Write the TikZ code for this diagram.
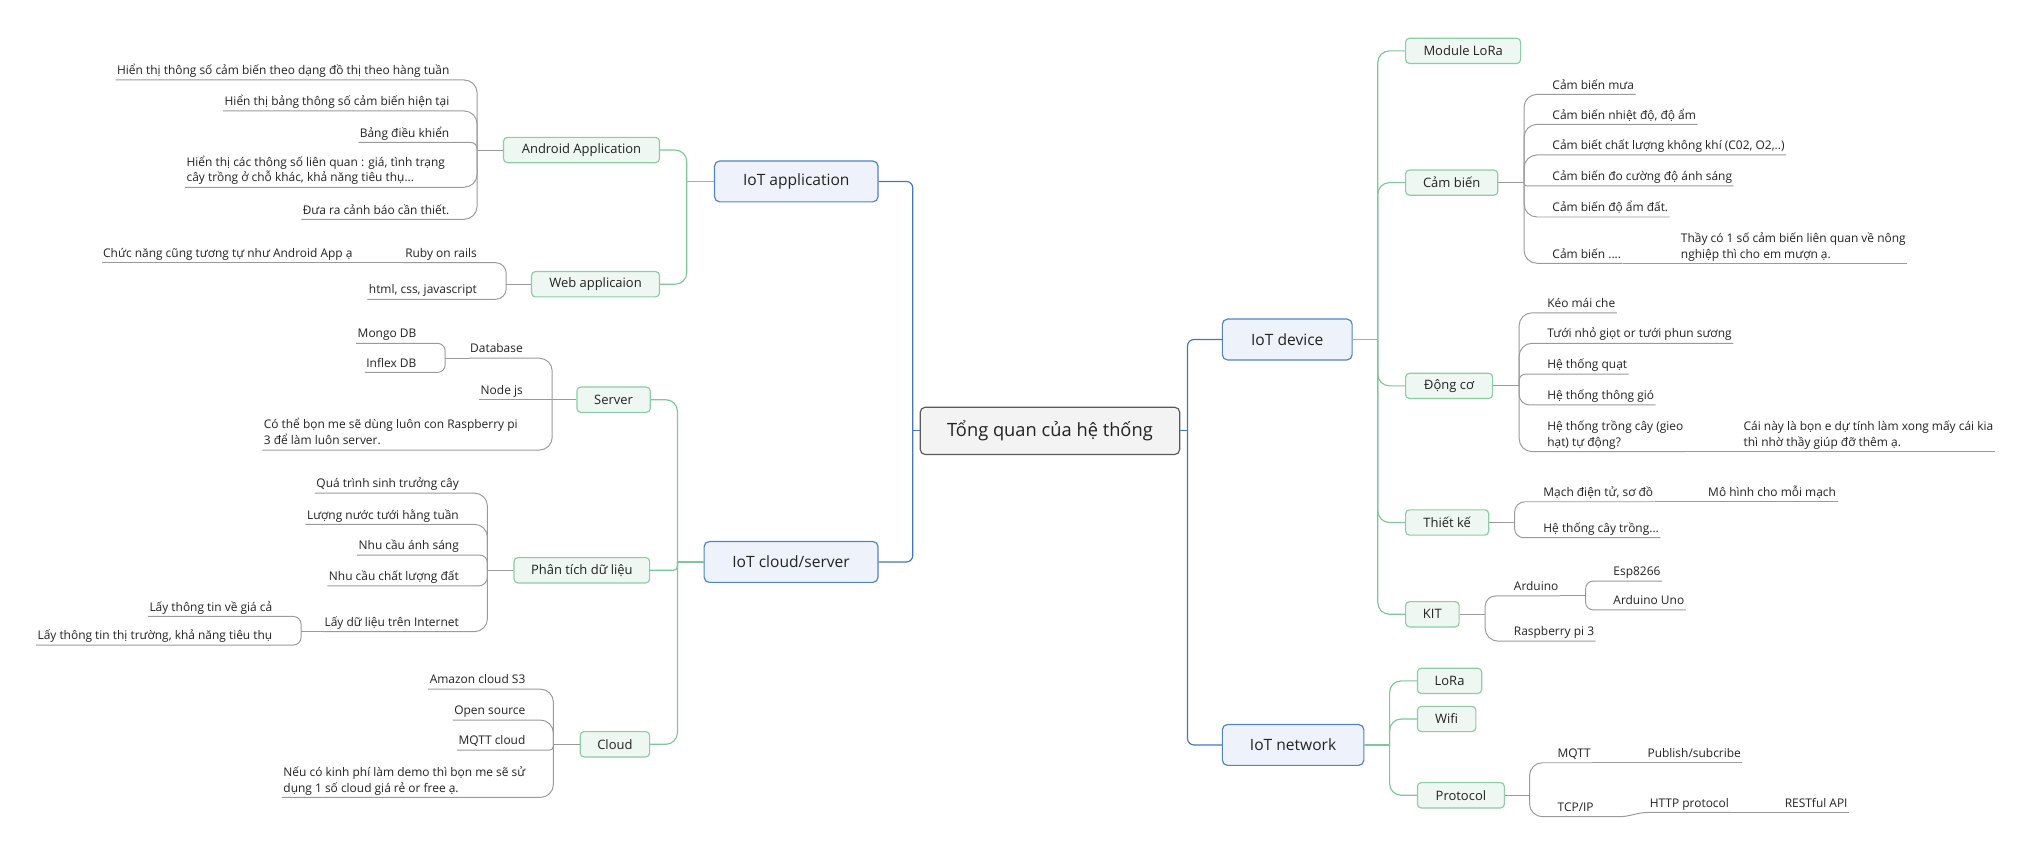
\documentclass[tikz,border=0pt]{standalone}
\usepackage{fontspec}
\setmainfont{Open Sans}
\newcommand\dstr{\rule[-2.4pt]{0pt}{9.4pt}}
\definecolor{txt}{HTML}{222222}
\definecolor{rootborder}{HTML}{5A5A5A}
\definecolor{rootfill}{HTML}{F3F3F3}
\definecolor{blueborder}{HTML}{4F83C6}
\definecolor{bluefill}{HTML}{EEF3FB}
\definecolor{bluewire}{HTML}{3F78BF}
\definecolor{greenborder}{HTML}{8ACFA4}
\definecolor{greenfill}{HTML}{EEF7F1}
\definecolor{greenwire}{HTML}{7DC89A}
\definecolor{graywire}{HTML}{9A9A9A}
\begin{document}
\begin{tikzpicture}[x=1pt,y=-1pt,
  root/.style={draw=rootborder, fill=rootfill, rounded corners=4pt, line width=0.9pt, minimum width=200pt, minimum height=36.5pt, font=\fontsize{14.1}{17}\selectfont, text=txt, inner sep=0pt},
  lone/.style={draw=blueborder, fill=bluefill, rounded corners=4pt, line width=0.9pt, minimum height=31.5pt, font=\fontsize{12}{14}\selectfont, text=txt, inner sep=0pt},
  ltwo/.style={draw=greenborder, fill=greenfill, rounded corners=3pt, line width=0.9pt, minimum height=19.5pt, font=\fontsize{10}{12}\selectfont, text=txt, inner sep=0pt},
  leafbase/.style={font=\fontsize{9.2}{12.2}\selectfont, text=txt, inner xsep=1pt, inner ysep=1.5pt},
  leaf/.style={leafbase, text height=7pt, text depth=2.4pt},
  multi/.style={leafbase, align=left},
  bl/.style={draw=bluewire, line width=0.9pt},
  gl/.style={draw=greenwire, line width=0.9pt},
  ul/.style={draw=graywire, line width=0.75pt}
]
\fill[white] (0,0) rectangle (1568,663);
\useasboundingbox (0,0) rectangle (1568,663);

% ---------- root and level 1 ----------
\node[root] (root) at (809,332) {Tổng quan của hệ thống};
\node[lone, anchor=east, minimum width=126pt] (app) at (677,139.8) {IoT application};
\node[lone, anchor=east, minimum width=134pt] (csrv) at (677,433) {IoT cloud/server};
\node[lone, anchor=west, minimum width=100pt] (dev) at (941.4,261.6) {IoT device};
\node[lone, anchor=west, minimum width=109pt] (net) at (941.4,574) {IoT network};

\coordinate (jL) at (703.3,332);
\coordinate (jR) at (915,332);
\draw[bl] (root.west) -- (jL);
\draw[bl, rounded corners=5pt] (jL) |- (app.east);
\draw[bl, rounded corners=5pt] (jL) |- (csrv.east);
\draw[bl] (root.east) -- (jR);
\draw[bl, rounded corners=5pt] (jR) |- (dev.west);
\draw[bl, rounded corners=5pt] (jR) |- (net.west);

% ---------- level 2 left ----------
\node[ltwo, anchor=east, minimum width=120.2pt] (android) at (508.6,115.6) {Android Application};
\node[ltwo, anchor=east, minimum width=98.6pt] (web) at (508.6,219) {Web applicaion};
\node[ltwo, anchor=east, minimum width=56.5pt] (server) at (501.5,308) {Server};
\node[ltwo, anchor=east, minimum width=104.5pt] (phantich) at (501,439.4) {Phân tích dữ liệu};
\node[ltwo, anchor=east, minimum width=53.5pt] (cloud) at (501,573.5) {Cloud};

\coordinate (jApp) at (529.2,139.8);
\draw[gl] (app.west) -- (jApp);
\draw[gl, rounded corners=9pt] (jApp) |- (android.east);
\draw[gl, rounded corners=9pt] (jApp) |- (web.east);

\coordinate (jCS) at (522,433);
\draw[gl] (csrv.west) -- (jCS);
\draw[gl, rounded corners=9pt] (jCS) |- (server.east);
\draw[gl, rounded corners=3pt] (jCS) |- (phantich.east);
\draw[gl, rounded corners=9pt] (jCS) |- (cloud.east);

% ---------- level 2 right ----------
\node[ltwo, anchor=west, minimum width=88.6pt] (lora1) at (1082.6,39.2) {Module LoRa};
\node[ltwo, anchor=west, minimum width=71pt] (cambien) at (1082.6,140.7) {Cảm biến};
\node[ltwo, anchor=west, minimum width=67pt] (dongco) at (1082.6,297.3) {Động cơ};
\node[ltwo, anchor=west, minimum width=64pt] (thietke) at (1082.6,402.6) {Thiết kế};
\node[ltwo, anchor=west, minimum width=41.2pt] (kit) at (1082.6,473.3) {KIT};
\node[ltwo, anchor=west, minimum width=49.5pt] (lora2) at (1091.7,524.6) {LoRa};
\node[ltwo, anchor=west, minimum width=45pt] (wifi) at (1091.7,554) {Wifi};
\node[ltwo, anchor=west, minimum width=67pt] (protocol) at (1091.7,612.8) {Protocol};

\coordinate (jDev) at (1061.6,261.6);
\draw[gl] (dev.east) -- (jDev);
\foreach \n in {lora1,cambien,dongco,thietke,kit}
  \draw[gl, rounded corners=9pt] (jDev) |- (\n.west);
\coordinate (jNet) at (1070.7,574);
\draw[gl] (net.east) -- (jNet);
\foreach \n in {lora2,wifi,protocol}
  \draw[gl, rounded corners=9pt] (jNet) |- (\n.west);

% ---------- Android Application leaves ----------
\coordinate (jAnd) at (367.6,115.6);
\draw[ul] (android.west) -- (jAnd);
\node[leaf, anchor=south east] (a1) at (347.4,61.6) {Hiển thị thông số cảm biến theo dạng đồ thị theo hàng tuần};
\node[leaf, anchor=south east] (a2) at (347.4,85.5) {Hiển thị bảng thông số cảm biến hiện tại};
\node[leaf, anchor=south east] (a3) at (347.4,109.7) {Bảng điều khiển};
\node[multi, anchor=south east] (a4) at (344,144.3) {Hiển thị các thông số liên quan : giá, tình trạng\\cây trồng ở chỗ khác, khả năng tiêu thụ...\dstr};
\node[leaf, anchor=south east] (a5) at (347.4,169) {Đưa ra cảnh báo cần thiết.};
\draw[ul, rounded corners=10pt] (jAnd) |- (a1.south west);
\draw[ul, rounded corners=10pt] (jAnd) |- (a2.south west);
\draw[ul, rounded corners=5pt] (jAnd) |- (a3.south west);
\draw[ul, rounded corners=10pt] (jAnd) |- (a4.south west);
\draw[ul, rounded corners=10pt] (jAnd) |- (a5.south west);

% ---------- Web leaves ----------
\coordinate (jWeb) at (390,219);
\draw[ul] (web.west) -- (jWeb);
\node[leaf, anchor=south east] (ruby) at (368.6,202.4) {Ruby on rails};
\node[leaf, anchor=south east] (chuc) at (272.8,202.4) {Chức năng cũng tương tự như Android App ạ};
\node[leaf, anchor=south east] (html) at (368.6,230.6) {html, css, javascript};
\draw[ul, rounded corners=8pt] (jWeb) |- (ruby.south west);
\draw[ul] (ruby.south west) -- (chuc.south west);
\draw[ul, rounded corners=8pt] (jWeb) |- (html.south west);

% ---------- Server leaves ----------
\coordinate (jSrv) at (425.5,308);
\draw[ul] (server.west) -- (jSrv);
\node[leaf, anchor=south east] (db) at (404,276) {Database};
\node[leaf, anchor=south east] (mongo) at (322,264.5) {Mongo DB};
\node[leaf, anchor=south east] (inflex) at (322,287) {Inflex DB};
\node[leaf, anchor=south east] (nodejs) at (404,308) {Node js};
\node[multi, anchor=south east] (cothe) at (400,346.8) {Có thể bọn me sẽ dùng luôn con Raspberry pi\\3 để làm luôn server.\dstr};
\coordinate (jDb) at (343,276);
\draw[ul, rounded corners=10pt] (jSrv) |- (db.south west);
\draw[ul] (db.south west) -- (jDb);
\draw[ul, rounded corners=6pt] (jDb) |- (mongo.south west);
\draw[ul, rounded corners=6pt] (jDb) |- (inflex.south west);
\draw[ul] (jSrv) -- (nodejs.south west);
\draw[ul, rounded corners=10pt] (jSrv) |- (cothe.south west);

% ---------- Phan tich leaves ----------
\coordinate (jPt) at (375.6,439.4);
\draw[ul] (phantich.west) -- (jPt);
\node[leaf, anchor=south east] (q1) at (354.7,380) {Quá trình sinh trưởng cây};
\node[leaf, anchor=south east] (q2) at (354.7,404) {Lượng nước tưới hằng tuần};
\node[leaf, anchor=south east] (q3) at (354.7,427.7) {Nhu cầu ánh sáng};
\node[leaf, anchor=south east] (q4) at (354.7,451.5) {Nhu cầu chất lượng đất};
\node[leaf, anchor=south east] (q5) at (354.7,486.7) {Lấy dữ liệu trên Internet};
\node[leaf, anchor=south east] (q51) at (211,475) {Lấy thông tin về giá cả};
\node[leaf, anchor=south east] (q52) at (211,497) {Lấy thông tin thị trường, khả năng tiêu thụ};
\coordinate (jInt) at (232,486.7);
\draw[ul, rounded corners=10pt] (jPt) |- (q1.south west);
\draw[ul, rounded corners=10pt] (jPt) |- (q2.south west);
\draw[ul, rounded corners=6pt] (jPt) |- (q3.south west);
\draw[ul, rounded corners=7pt] (jPt) |- (q4.south west);
\draw[ul, rounded corners=10pt] (jPt) |- (q5.south west);
\draw[ul] (q5.south west) -- (jInt);
\draw[ul, rounded corners=6pt] (jInt) |- (q51.south west);
\draw[ul, rounded corners=6pt] (jInt) |- (q52.south west);

% ---------- Cloud leaves ----------
\coordinate (jCl) at (426.4,573.5);
\draw[ul] (cloud.west) -- (jCl);
\node[leaf, anchor=south east] (c1) at (406,531) {Amazon cloud S3};
\node[leaf, anchor=south east] (c2) at (406,554.8) {Open source};
\node[leaf, anchor=south east] (c3) at (406,578) {MQTT cloud};
\node[multi, anchor=south east] (c4) at (406,614.4) {Nếu có kinh phí làm demo thì bọn me sẽ sử\\dụng 1 số cloud giá rẻ or free ạ.\dstr};
\draw[ul, rounded corners=10pt] (jCl) |- (c1.south west);
\draw[ul, rounded corners=10pt] (jCl) |- (c2.south west);
\draw[ul, rounded corners=3pt] (jCl) |- (c3.south west);
\draw[ul, rounded corners=10pt] (jCl) |- (c4.south west);

% ---------- Cam bien leaves ----------
\coordinate (jCb) at (1174.3,140.7);
\draw[ul] (cambien.east) -- (jCb);
\node[leaf, anchor=south west] (s1) at (1195,72.7) {Cảm biến mưa};
\node[leaf, anchor=south west] (s2) at (1195,95.8) {Cảm biến nhiệt độ, độ ẩm};
\node[leaf, anchor=south west] (s3) at (1195,119.4) {Cảm biết chất lượng không khí (C02, O2,..)};
\node[leaf, anchor=south west] (s4) at (1195,143.3) {Cảm biến đo cường độ ánh sáng};
\node[leaf, anchor=south west] (s5) at (1195,167.2) {Cảm biến độ ẩm đất.};
\node[leaf, anchor=south west] (s6) at (1195,202.9) {Cảm biến ....};
\node[multi, anchor=south west] (s6n) at (1294,202.9) {Thầy có 1 số cảm biến liên quan về nông\\nghiệp thì cho em mượn ạ.\dstr};
\draw[ul, rounded corners=10pt] (jCb) |- (s1.south east);
\draw[ul, rounded corners=10pt] (jCb) |- (s2.south east);
\draw[ul, rounded corners=10pt] (jCb) |- (s3.south east);
\draw[ul, rounded corners=2pt] (jCb) |- (s4.south east);
\draw[ul, rounded corners=10pt] (jCb) |- (s5.south east);
\draw[ul, rounded corners=10pt] (jCb) |- (s6.south east);
\draw[ul] (s6.south east) -- (s6n.south east);

% ---------- Dong co leaves ----------
\coordinate (jDc) at (1170.5,297.3);
\draw[ul] (dongco.east) -- (jDc);
\node[leaf, anchor=south west] (d1) at (1191,241) {Kéo mái che};
\node[leaf, anchor=south west] (d2) at (1191,264.5) {Tưới nhỏ giọt or tưới phun sương};
\node[leaf, anchor=south west] (d3) at (1191,288.2) {Hệ thống quạt};
\node[leaf, anchor=south west] (d4) at (1191,312) {Hệ thống thông gió};
\node[multi, anchor=south west] (d5) at (1191,348) {Hệ thống trồng cây (gieo\\hạt) tự động?\dstr};
\node[multi, anchor=south west] (d5n) at (1342.3,348) {Cái này là bọn e dự tính làm xong mấy cái kia\\thì nhờ thầy giúp đỡ thêm ạ.\dstr};
\draw[ul, rounded corners=10pt] (jDc) |- (d1.south east);
\draw[ul, rounded corners=10pt] (jDc) |- (d2.south east);
\draw[ul, rounded corners=5pt] (jDc) |- (d3.south east);
\draw[ul, rounded corners=8pt] (jDc) |- (d4.south east);
\draw[ul, rounded corners=10pt] (jDc) |- (d5.south east);
\draw[ul] (d5.south east) -- (d5n.south east);

% ---------- Thiet ke leaves ----------
\coordinate (jTk) at (1167,402.6);
\draw[ul] (thietke.east) -- (jTk);
\node[leaf, anchor=south west] (t1) at (1188,386.6) {Mạch điện tử, sơ đồ};
\node[leaf, anchor=south west] (t1n) at (1315,386.6) {Mô hình cho mỗi mạch};
\node[leaf, anchor=south west] (t2) at (1188,414.3) {Hệ thống cây trồng...};
\draw[ul, rounded corners=8pt] (jTk) |- (t1.south east);
\draw[ul] (t1.south east) -- (t1n.south east);
\draw[ul, rounded corners=7pt] (jTk) |- (t2.south east);

% ---------- KIT leaves ----------
\coordinate (jKit) at (1144.3,473.3);
\draw[ul] (kit.east) -- (jKit);
\node[leaf, anchor=south west] (k1) at (1165.3,459.2) {Arduino};
\node[leaf, anchor=south west] (k11) at (1242,447.7) {Esp8266};
\node[leaf, anchor=south west] (k12) at (1242,470) {Arduino Uno};
\node[leaf, anchor=south west] (k2) at (1165.3,494) {Raspberry pi 3};
\coordinate (jArd) at (1221.7,459.2);
\draw[ul, rounded corners=8pt] (jKit) |- (k1.south east);
\draw[ul] (k1.south east) -- (jArd);
\draw[ul, rounded corners=6pt] (jArd) |- (k11.south east);
\draw[ul, rounded corners=6pt] (jArd) |- (k12.south east);
\draw[ul, rounded corners=10pt] (jKit) |- (k2.south east);

% ---------- Protocol leaves ----------
\coordinate (jPr) at (1178.5,612.8);
\draw[ul] (protocol.east) -- (jPr);
\node[leaf, anchor=south west] (p1) at (1199,587.7) {MQTT};
\node[leaf, anchor=south west] (p1n) at (1268.3,587.7) {Publish/subcribe};
\node[leaf, anchor=south west] (p2) at (1199,629.3) {TCP/IP};
\node[leaf, anchor=south west] (p21) at (1270,626) {HTTP protocol};
\node[leaf, anchor=south west] (p22) at (1374,626) {RESTful API};
\draw[ul, rounded corners=10pt] (jPr) |- (p1.south east);
\draw[ul] (p1.south east) -- (p1n.south east);
\draw[ul, rounded corners=10pt] (jPr) |- (p2.south east);
\draw[ul] (p2.south east) -- ++(18,0) to[out=0,in=180] (p21.south west) -- (p21.south east);
\draw[ul] (p21.south east) -- (p22.south east);
\end{tikzpicture}
\end{document}
